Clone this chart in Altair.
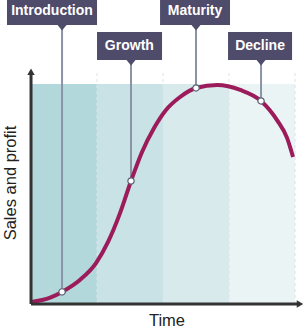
import altair as alt
import pandas as pd

# ---- data ----
stages = ["Introduction", "Growth", "Maturity", "Decline"]
stage_start = [0, 1, 2, 3]
stage_end = [1, 2, 3, 4]

curve_t = [0.0, 0.29, 0.47, 0.74, 0.985, 1.167, 1.35, 1.515, 1.682, 1.864, 2.045, 2.258, 2.5, 2.82, 3.17, 3.485, 3.727, 3.879, 3.97]
curve_s = [0.9, 2.9, 5.5, 10.9, 18.6, 28.2, 41.4, 55.9, 69.1, 80.0, 88.2, 94.1, 98.2, 99.5, 97.3, 92.3, 83.6, 75.5, 66.8]

marker_t = [0.47, 1.515, 2.5, 3.485]
marker_s = [5.5, 55.9, 98.2, 92.3]

# ---- layout (data units: 1 time unit = one stage, sales 0..100) ----
X0, X1 = -0.47, 4.136
Y0, Y1 = -11.36, 138.18
xs = alt.Scale(domain=[X0, X1], nice=False, zero=False)
ys = alt.Scale(domain=[Y0, Y1], nice=False, zero=False)

box_left = [-0.364, 1.0, 1.955, 2.985]
box_right = [1.0, 1.985, 3.015, 3.955]
box_top = [139.5, 123.6, 139.5, 123.6]
box_bottom = [126.8, 110.9, 126.8, 110.9]
text_t = [0.318, 1.49, 2.485, 3.47]

band_colors = ["#b3d8dc", "#c8e2e5", "#d9eaed", "#eaf4f5"]
BOX = "#4f4b6b"
CURVE = "#9c1c5b"
AXIS = "#333333"


def X(f):
    return alt.X(f, type="quantitative", scale=xs, axis=None)


def Y(f):
    return alt.Y(f, type="quantitative", scale=ys, axis=None)


bands = pd.DataFrame({"stage": stages, "t0": stage_start, "t1": stage_end,
                      "lo": [0] * 4, "hi": [100] * 4})
curve = pd.DataFrame({"t": curve_t, "s": curve_s})
pts = pd.DataFrame({"stage": stages, "t": marker_t, "s": marker_s,
                    "tip": box_bottom, "bl": box_left, "br": box_right,
                    "bt": box_top, "bb": box_bottom, "tt": text_t,
                    "tm": [(a + b) / 2 for a, b in zip(box_top, box_bottom)]})
divs = pd.DataFrame({"t": stage_end, "lo": [0] * 4, "hi": [105.5] * 4})
axes_df = pd.DataFrame({"t0": [0, 0], "t1": [0, 4.05], "s0": [0, 0], "s1": [105, 0]})
arrows = pd.DataFrame({"t": [0, 4.075], "s": [105.6, 0], "shape": ["up", "right"]})
titles = pd.DataFrame({"t": [2.06], "s": [-7.7], "label": ["Time"]})
ytitle = pd.DataFrame({"t": [-0.31], "s": [55.0], "label": ["Sales and profit"]})

band_layer = alt.Chart(bands).mark_rect().encode(
    x=X("t0"), x2="t1", y=Y("lo"), y2="hi",
    color=alt.Color("stage:N", scale=alt.Scale(domain=stages, range=band_colors), legend=None))

div_layer = alt.Chart(divs).mark_rule(strokeDash=[3, 3], color="#dde5e9", strokeWidth=1).encode(
    x=X("t"), y=Y("lo"), y2="hi")

pointer_layer = alt.Chart(pts).mark_rule(color="#8b93a7", strokeWidth=2).encode(
    x=X("t"), y=Y("s"), y2="tip")

curve_layer = alt.Chart(curve).mark_line(interpolate="monotone", color=CURVE, strokeWidth=4).encode(
    x=X("t"), y=Y("s"))

marker_layer = alt.Chart(pts).mark_point(filled=True, fill="white", stroke="#5b5f75",
                                          strokeWidth=1.2, size=40, opacity=1).encode(
    x=X("t"), y=Y("s"))

axis_layer = alt.Chart(axes_df).mark_rule(color=AXIS, strokeWidth=3).encode(
    x=X("t0"), x2="t1", y=Y("s0"), y2="s1")

arrow_up = alt.Chart(arrows[arrows["shape"] == "up"]).mark_point(
    shape="triangle-up", filled=True, color=AXIS, size=55, opacity=1).encode(x=X("t"), y=Y("s"))
arrow_right = alt.Chart(arrows[arrows["shape"] == "right"]).mark_point(
    shape="triangle-right", filled=True, color=AXIS, size=55, opacity=1).encode(x=X("t"), y=Y("s"))

box_layer = alt.Chart(pts).mark_rect(color=BOX).encode(
    x=X("bl"), x2="br", y=Y("bb"), y2="bt")

tri_layer = alt.Chart(pts).mark_point(shape="M-1,0L1,0L0,1.2Z", filled=True, color=BOX,
                                       size=81, opacity=1).encode(x=X("t"), y=Y("bb"))

label_layer = alt.Chart(pts).mark_text(font="Liberation Sans", fontWeight="bold", fontSize=14,
                                        color="white", align="center", baseline="middle").encode(
    x=X("tt"), y=Y("tm"), text="stage:N")

xtitle_layer = alt.Chart(titles).mark_text(font="Liberation Sans", fontSize=16.5, color="#222222",
                                           align="center", baseline="middle").encode(
    x=X("t"), y=Y("s"), text="label:N")

ytitle_layer = alt.Chart(ytitle).mark_text(font="Liberation Sans", fontSize=16.5, color="#222222",
                                           align="center", baseline="middle", angle=270).encode(
    x=X("t"), y=Y("s"), text="label:N")

chart = alt.layer(
    band_layer, div_layer, pointer_layer, curve_layer, marker_layer,
    axis_layer, arrow_up, arrow_right, box_layer, tri_layer, label_layer,
    xtitle_layer, ytitle_layer
).properties(
    width=304, height=329, padding=0, background="white",
    autosize=alt.AutoSizeParams(type="none")
).configure_view(stroke=None)

chart.save("out.html", embed_options={"renderer": "svg", "actions": False})
